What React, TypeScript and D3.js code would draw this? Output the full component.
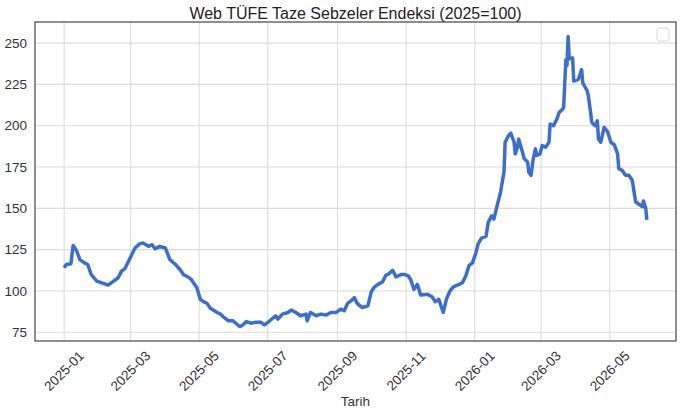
import { useEffect, useRef } from 'react';
import * as d3 from 'd3';

// observation dates and index values (2025=100)
const dates: string[] = [
  '2025-01-01', '2025-01-03', '2025-01-07', '2025-01-09', '2025-01-12', '2025-01-15', '2025-01-19', '2025-01-22',
  '2025-01-25', '2025-01-30', '2025-02-03', '2025-02-09', '2025-02-14', '2025-02-18', '2025-02-21', '2025-02-24',
  '2025-02-28', '2025-03-05', '2025-03-09', '2025-03-12', '2025-03-17', '2025-03-20', '2025-03-23', '2025-03-27',
  '2025-04-01', '2025-04-05', '2025-04-10', '2025-04-14', '2025-04-17', '2025-04-21', '2025-04-24', '2025-04-26',
  '2025-04-29', '2025-05-02', '2025-05-05', '2025-05-08', '2025-05-11', '2025-05-17', '2025-05-20', '2025-05-23',
  '2025-05-27', '2025-05-31', '2025-06-06', '2025-06-08', '2025-06-12', '2025-06-16', '2025-06-20', '2025-06-25',
  '2025-06-28', '2025-07-02', '2025-07-08', '2025-07-10', '2025-07-14', '2025-07-19', '2025-07-22', '2025-07-26',
  '2025-07-30', '2025-08-04', '2025-08-05', '2025-08-08', '2025-08-13', '2025-08-17', '2025-08-22', '2025-08-26',
  '2025-08-31', '2025-09-04', '2025-09-07', '2025-09-10', '2025-09-13', '2025-09-16', '2025-09-18', '2025-09-20',
  '2025-09-23', '2025-09-28', '2025-10-01', '2025-10-04', '2025-10-07', '2025-10-11', '2025-10-14', '2025-10-17',
  '2025-10-20', '2025-10-23', '2025-10-28', '2025-10-31', '2025-11-03', '2025-11-05', '2025-11-08', '2025-11-11',
  '2025-11-14', '2025-11-20', '2025-11-24', '2025-11-27', '2025-11-30', '2025-12-04', '2025-12-07', '2025-12-10',
  '2025-12-13', '2025-12-18', '2025-12-21', '2025-12-24', '2025-12-27', '2025-12-30', '2026-01-02', '2026-01-04',
  '2026-01-07', '2026-01-11', '2026-01-13', '2026-01-16', '2026-01-18', '2026-01-21', '2026-01-24', '2026-01-27',
  '2026-01-28', '2026-01-31', '2026-02-02', '2026-02-05', '2026-02-06', '2026-02-08', '2026-02-09', '2026-02-12',
  '2026-02-14', '2026-02-17', '2026-02-18', '2026-02-20', '2026-02-22', '2026-02-24', '2026-02-25', '2026-02-28',
  '2026-03-02', '2026-03-05', '2026-03-08', '2026-03-09', '2026-03-12', '2026-03-15', '2026-03-17', '2026-03-20',
  '2026-03-21', '2026-03-23', '2026-03-24', '2026-03-25', '2026-03-26', '2026-03-29', '2026-03-30', '2026-04-03',
  '2026-04-06', '2026-04-07', '2026-04-11', '2026-04-12', '2026-04-14', '2026-04-15', '2026-04-18', '2026-04-20',
  '2026-04-21', '2026-04-23', '2026-04-26', '2026-04-29', '2026-05-02', '2026-05-05', '2026-05-08', '2026-05-09',
  '2026-05-12', '2026-05-15', '2026-05-18', '2026-05-21', '2026-05-24', '2026-05-27', '2026-05-30', '2026-05-31',
  '2026-06-02', '2026-06-03',
];

const values: number[] = [
  114, 116, 116.5, 127.5, 124.5, 119, 117, 116,
  110, 106, 105, 103.5, 106, 108, 112, 113.5,
  119, 126, 128.5, 129, 127, 128, 125.5, 127,
  126, 119, 116, 113, 110, 108.5, 107, 105,
  102, 95, 93.5, 92.5, 89.5, 87, 86, 84,
  82, 82, 78.5, 79, 81.5, 80.5, 81, 81,
  79.5, 81.5, 85, 83, 86, 87, 88.5, 87,
  85, 86, 82, 87, 85, 86, 85.5, 87,
  87, 89, 88, 92.5, 94, 96, 93, 91.5,
  90, 91, 99.5, 102.5, 104, 105.5, 109.5, 110.5,
  112.5, 108.5, 110, 110, 109, 107, 101, 104,
  97.5, 98, 96.5, 93.5, 95, 87, 95.5, 100,
  102.5, 104, 105, 109, 115.5, 117, 123, 128.5,
  132, 133, 141.5, 145.5, 143.5, 152, 160, 172,
  190, 194, 195.5, 190, 183, 187, 192, 185,
  180, 178, 172, 170, 180, 186, 182, 183,
  188, 187, 190, 201, 200, 204, 208, 210,
  211, 240, 236.5, 254, 240.5, 241, 227, 228,
  234, 226, 221, 218, 208, 202, 200, 203,
  192, 190, 199, 196.5, 190, 188.5, 183, 174,
  173, 170, 170, 167, 154, 152.5, 151, 154.5,
  150, 143,
];

const yTicks = [75, 100, 125, 150, 175, 200, 225, 250];
const xTickLabels = ['2025-01', '2025-03', '2025-05', '2025-07', '2025-09', '2025-11', '2026-01', '2026-03', '2026-05'];

const title = 'Web TÜFE Taze Sebzeler Endeksi (2025=100)';
const xLabel = 'Tarih';

const W = 680;
const H = 412;
const FONT = 'Arial, "Liberation Sans", Helvetica, sans-serif';

export default function App() {
  const svgRef = useRef<SVGSVGElement>(null);

  useEffect(() => {
    if (!svgRef.current) return;
    const svg = d3.select(svgRef.current);
    svg.selectAll('*').remove();

    const margin = { top: 22, right: 4, bottom: 71, left: 35 };
    const innerW = W - margin.left - margin.right;
    const innerH = H - margin.top - margin.bottom;

    const parse = d3.utcParse('%Y-%m-%d');
    const parseMonth = d3.utcParse('%Y-%m');
    const data = dates.map((d, i) => ({ date: parse(d) as Date, value: values[i] }));

    // matplotlib-style 5% padding
    const [t0, t1] = d3.extent(data, d => d.date) as [Date, Date];
    const tPad = (+t1 - +t0) * 0.05;
    const [v0, v1] = d3.extent(data, d => d.value) as [number, number];
    const vPad = (v1 - v0) * 0.05;

    const x = d3.scaleUtc()
      .domain([new Date(+t0 - tPad), new Date(+t1 + tPad)])
      .range([0, innerW]);
    const y = d3.scaleLinear()
      .domain([v0 - vPad, v1 + vPad])
      .range([innerH, 0]);

    const g = svg.append('g')
      .attr('transform', `translate(${margin.left},${margin.top})`);

    g.append('rect')
      .attr('width', innerW)
      .attr('height', innerH)
      .attr('fill', '#fff');

    // grid
    const xTickDates = xTickLabels.map(s => parseMonth(s) as Date);
    g.append('g')
      .selectAll('line')
      .data(xTickDates)
      .join('line')
      .attr('x1', d => x(d)).attr('x2', d => x(d))
      .attr('y1', 0).attr('y2', innerH)
      .attr('stroke', '#dcdcdc')
      .attr('stroke-width', 1.1);
    g.append('g')
      .selectAll('line')
      .data(yTicks)
      .join('line')
      .attr('x1', 0).attr('x2', innerW)
      .attr('y1', d => y(d)).attr('y2', d => y(d))
      .attr('stroke', '#dcdcdc')
      .attr('stroke-width', 1.1);

    // series
    const line = d3.line<{ date: Date; value: number }>()
      .x(d => x(d.date))
      .y(d => y(d.value));
    g.append('path')
      .datum(data)
      .attr('d', line)
      .attr('fill', 'none')
      .attr('stroke', '#3c6fc9')
      .attr('stroke-width', 3.5)
      .attr('stroke-linejoin', 'round')
      .attr('stroke-linecap', 'butt');

    // frame
    g.append('rect')
      .attr('width', innerW)
      .attr('height', innerH)
      .attr('fill', 'none')
      .attr('stroke', '#444')
      .attr('stroke-width', 1.2);

    // y tick labels
    g.append('g')
      .selectAll('text')
      .data(yTicks)
      .join('text')
      .attr('x', -8)
      .attr('y', d => y(d))
      .attr('dy', '0.35em')
      .attr('text-anchor', 'end')
      .attr('font-family', FONT)
      .attr('font-size', 13.5)
      .attr('fill', '#333')
      .text(d => d);

    // x tick labels, rotated
    g.append('g')
      .selectAll('text')
      .data(xTickDates)
      .join('text')
      .attr('transform', d => `translate(${x(d)},${innerH + 30}) rotate(-45)`)
      .attr('text-anchor', 'middle')
      .attr('dominant-baseline', 'central')
      .attr('font-family', FONT)
      .attr('font-size', 13.5)
      .attr('fill', '#333')
      .text((d, i) => xTickLabels[i]);

    // axis label
    g.append('text')
      .attr('x', innerW / 2)
      .attr('y', H - margin.top - 6)
      .attr('text-anchor', 'middle')
      .attr('font-family', FONT)
      .attr('font-size', 13.5)
      .attr('fill', '#333')
      .text(xLabel);

    // title
    svg.append('text')
      .attr('x', margin.left + innerW / 2)
      .attr('y', 19)
      .attr('text-anchor', 'middle')
      .attr('font-family', FONT)
      .attr('font-size', 16)
      .attr('fill', '#222')
      .text(title);

    // empty legend box
    g.append('rect')
      .attr('x', innerW - 19)
      .attr('y', 6)
      .attr('width', 12)
      .attr('height', 13)
      .attr('rx', 2.5)
      .attr('fill', '#fff')
      .attr('stroke', '#d8d8d8')
      .attr('stroke-width', 1);
  }, []);

  return (
    <div style={{ position: 'fixed', left: 0, top: 0, width: W, height: H, background: '#fff' }}>
      <svg ref={svgRef} width={W} height={H} style={{ display: 'block' }} />
    </div>
  );
}
